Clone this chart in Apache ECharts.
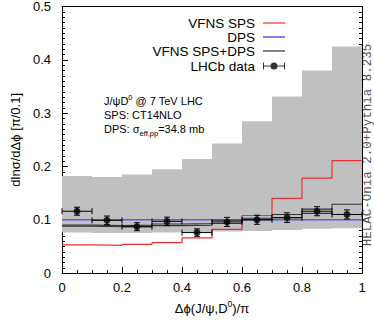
<!DOCTYPE html>
<html>
<head>
<meta charset="utf-8">
<script src="https://cdn.jsdelivr.net/npm/echarts@6/dist/echarts.min.js"></script>
<style>
  html, body { margin: 0; padding: 0; background: #fff; }
  #chart { width: 374px; height: 322px; }
</style>
</head>
<body>
<div id="chart"></div>
<script>
// ---- data ----
const binEdges = [0, 0.1, 0.2, 0.3, 0.4, 0.5, 0.6, 0.7, 0.8, 0.9, 1.0];
const bandLow  = [0.076, 0.075, 0.075, 0.076, 0.077, 0.078, 0.079, 0.081, 0.083, 0.084];
const bandHigh = [0.182, 0.180, 0.185, 0.195, 0.214, 0.243, 0.285, 0.331, 0.380, 0.425];
const spsVals  = [0.053, 0.052, 0.054, 0.057, 0.066, 0.082, 0.108, 0.140, 0.178, 0.211];
const dpsVals  = [0.100, 0.100, 0.100, 0.100, 0.100, 0.100, 0.100, 0.100, 0.100, 0.100];
const sumLow   = [0.088, 0.087, 0.087, 0.089, 0.090, 0.093, 0.100, 0.104, 0.112, 0.110];
const sumHigh  = [0.090, 0.089, 0.090, 0.092, 0.093, 0.099, 0.103, 0.110, 0.120, 0.129];
const dataX    = [0.05, 0.15, 0.25, 0.35, 0.45, 0.55, 0.65, 0.75, 0.85, 0.95];
const dataY    = [0.116, 0.099, 0.087, 0.097, 0.076, 0.096, 0.100, 0.104, 0.116, 0.110];
const dataErr  = [0.0075, 0.008, 0.0075, 0.008, 0.007, 0.0085, 0.0085, 0.009, 0.0085, 0.0085];
const dataXErr = [0.05, 0.05, 0.05, 0.05, 0.05, 0.05, 0.05, 0.05, 0.05, 0.05];
const xTickLabels = ['0', '0.2', '0.4', '0.6', '0.8', '1'];
const yTickLabels = ['0', '0.1', '0.2', '0.3', '0.4', '0.5'];

// ---- helpers ----
function stepData(vals) {
  return binEdges.map((x, i) => [x, vals[Math.min(i, vals.length - 1)]]);
}
const bandData = bandLow.map((lo, i) => [binEdges[i], binEdges[i + 1], lo, bandHigh[i]]);
const errData = dataX.map((x, i) => [x, dataY[i], dataY[i] - dataErr[i], dataY[i] + dataErr[i], x - dataXErr[i], x + dataXErr[i]]);
const ptData = dataX.map((x, i) => [x, dataY[i]]);

const FONT = 'Liberation Sans';
const chart = echarts.init(document.getElementById('chart'), null, { renderer: 'svg' });

const axisCommon = {
  min: 0, max: 1, interval: 0.2,
  axisLine: { show: true, onZero: false, lineStyle: { color: '#000', width: 1 } },
  splitLine: { show: false },
};

const errPath = 'path://M0,1.5H1V4.5H21V1.5H22V8.5H21V5.5H1V8.5H0Z M14.5,5A3.5,3.5 0 1 1 7.5,5A3.5,3.5 0 1 1 14.5,5Z';

function legendRow(name, top, icon, iconH) {
  return {
    data: [{ name: name, icon: icon }], right: 89, top: top, orient: 'vertical', align: 'right',
    padding: 0, itemWidth: 22, itemHeight: iconH, selectedMode: false,
    textStyle: { fontFamily: FONT, fontSize: 13.5, color: '#000', padding: [0, 3, 0, 0] }
  };
}

chart.setOption({
  animation: false,
  backgroundColor: '#fff',
  grid: { left: 62, right: 12, top: 6, bottom: 44 },
  legend: [
    legendRow('VFNS SPS', 16, 'path://M0,0H22V1.2H0Z', 1.2),
    legendRow('DPS', 30, 'path://M0,0H22V2H0Z', 2),
    legendRow('VFNS SPS+DPS', 44, 'path://M0,0H22V1.2H0Z', 1.2),
    legendRow('LHCb data', 59, errPath, 7)
  ],
  xAxis: [
    Object.assign({}, axisCommon, {
      type: 'value', position: 'bottom',
      name: 'Δϕ(J/ψ,D{sup|0})/π', nameLocation: 'middle', nameGap: 25,
      nameTextStyle: { fontFamily: FONT, fontSize: 13, color: '#000', lineHeight: 18,
        rich: { sup: { fontSize: 8.5, fontFamily: FONT, color: '#000', verticalAlign: 'top' } } },
      axisTick: { show: true, inside: true, length: 6, lineStyle: { color: '#000' } },
      minorTick: { show: true, splitNumber: 4, length: 3, lineStyle: { color: '#000' } },
      axisLabel: { margin: 8, fontFamily: FONT, fontSize: 13, color: '#000',
        formatter: v => xTickLabels[Math.round(v * 5)] }
    }),
    Object.assign({}, axisCommon, {
      type: 'value', position: 'top',
      axisTick: { show: false }, axisLabel: { show: false }
    })
  ],
  yAxis: [
    Object.assign({}, axisCommon, {
      type: 'value', position: 'left', max: 0.5, interval: 0.1,
      name: 'dlnσ/dΔϕ [π/0.1]', nameLocation: 'middle', nameGap: 38,
      nameTextStyle: { fontFamily: FONT, fontSize: 13, color: '#000' },
      axisTick: { show: true, inside: true, length: 6, lineStyle: { color: '#000' } },
      minorTick: { show: true, splitNumber: 10, length: 3, lineStyle: { color: '#000' } },
      axisLabel: { margin: 11, fontFamily: FONT, fontSize: 13, color: '#000',
        formatter: v => yTickLabels[Math.round(v * 10)] }
    }),
    Object.assign({}, axisCommon, {
      type: 'value', position: 'right', max: 0.5, interval: 0.1,
      axisTick: { show: true, inside: true, length: 6, lineStyle: { color: '#000' } },
      minorTick: { show: true, splitNumber: 10, length: 3, lineStyle: { color: '#000' } },
      axisLabel: { show: false }
    })
  ],
  series: [
    {
      name: 'band', type: 'custom', xAxisIndex: 0, yAxisIndex: 0, z: 1,
      data: bandData, encode: { x: [0, 1], y: [2, 3] }, silent: true,
      renderItem: function (params, api) {
        const p0 = api.coord([api.value(0), api.value(3)]);
        const p1 = api.coord([api.value(1), api.value(2)]);
        return { type: 'rect', shape: { x: p0[0], y: p0[1], width: p1[0] - p0[0], height: p1[1] - p0[1] },
          style: { fill: '#c0c0c0' } };
      }
    },
    { name: 'VFNS SPS', type: 'line', step: 'end', symbol: 'none', z: 3,
      data: stepData(spsVals), color: '#ee3030', lineStyle: { width: 1.2, color: '#ee3030' } },
    { name: 'DPS', type: 'line', step: 'end', symbol: 'none', z: 3,
      data: stepData(dpsVals), color: '#8282f4', lineStyle: { width: 1.5, color: '#5a5aea' } },
    { name: 'VFNS SPS+DPS', type: 'line', step: 'end', symbol: 'none', z: 4,
      data: stepData(sumLow), color: '#333', lineStyle: { width: 1.1, color: '#333' } },
    { name: 'VFNS SPS+DPS', type: 'line', step: 'end', symbol: 'none', z: 4,
      data: stepData(sumHigh), color: '#333', lineStyle: { width: 1.1, color: '#333' } },
    {
      name: 'errors', type: 'custom', z: 5, data: errData, silent: true,
      encode: { x: [0, 4, 5], y: [1, 2, 3] },
      renderItem: function (params, api) {
        const c = api.coord([api.value(0), api.value(1)]);
        const lo = api.coord([api.value(0), api.value(2)]);
        const hi = api.coord([api.value(0), api.value(3)]);
        const l = api.coord([api.value(4), api.value(1)]);
        const r = api.coord([api.value(5), api.value(1)]);
        const st = { stroke: '#000', lineWidth: 1 };
        const cw = 3, ch = 3;
        return { type: 'group', children: [
          { type: 'line', shape: { x1: l[0], y1: c[1], x2: r[0], y2: c[1] }, style: st },
          { type: 'line', shape: { x1: l[0], y1: c[1] - ch, x2: l[0], y2: c[1] + ch }, style: st },
          { type: 'line', shape: { x1: r[0], y1: c[1] - ch, x2: r[0], y2: c[1] + ch }, style: st },
          { type: 'line', shape: { x1: c[0], y1: lo[1], x2: c[0], y2: hi[1] }, style: st },
          { type: 'line', shape: { x1: c[0] - cw, y1: lo[1], x2: c[0] + cw, y2: lo[1] }, style: st },
          { type: 'line', shape: { x1: c[0] - cw, y1: hi[1], x2: c[0] + cw, y2: hi[1] }, style: st }
        ] };
      }
    },
    { name: 'LHCb data', type: 'scatter', z: 6, symbol: 'circle', symbolSize: 7,
      data: ptData, color: '#000', itemStyle: { color: '#000' } }
  ],
  graphic: [
    { type: 'text', left: 104, top: 93, silent: true,
      style: { text: 'J/ψD{sup|0} @ 7 TeV LHC', fontFamily: FONT, fontSize: 11, fill: '#000', lineHeight: 16,
        rich: { sup: { fontSize: 7.5, fontFamily: FONT, fill: '#000', verticalAlign: 'top' } } } },
    { type: 'text', left: 104, top: 109, silent: true,
      style: { text: 'SPS: CT14NLO', fontFamily: FONT, fontSize: 11, fill: '#000' } },
    { type: 'text', left: 104, top: 121, silent: true,
      style: { text: 'DPS: σ{sub|eff,pp}=34.8 mb', fontFamily: FONT, fontSize: 11, fill: '#000', lineHeight: 16,
        rich: { sub: { fontSize: 7.5, fontFamily: FONT, fill: '#000', verticalAlign: 'bottom' } } } },
    { type: 'text', x: 368, y: 145, rotation: Math.PI / 2, silent: true,
      style: { text: 'HELAC-Onia 2.0+Pythia 8.235', fontFamily: 'Liberation Mono', fontSize: 12.5,
        fill: '#555', align: 'center', verticalAlign: 'middle', lineHeight: 11 } }
  ]
});
</script>
</body>
</html>
